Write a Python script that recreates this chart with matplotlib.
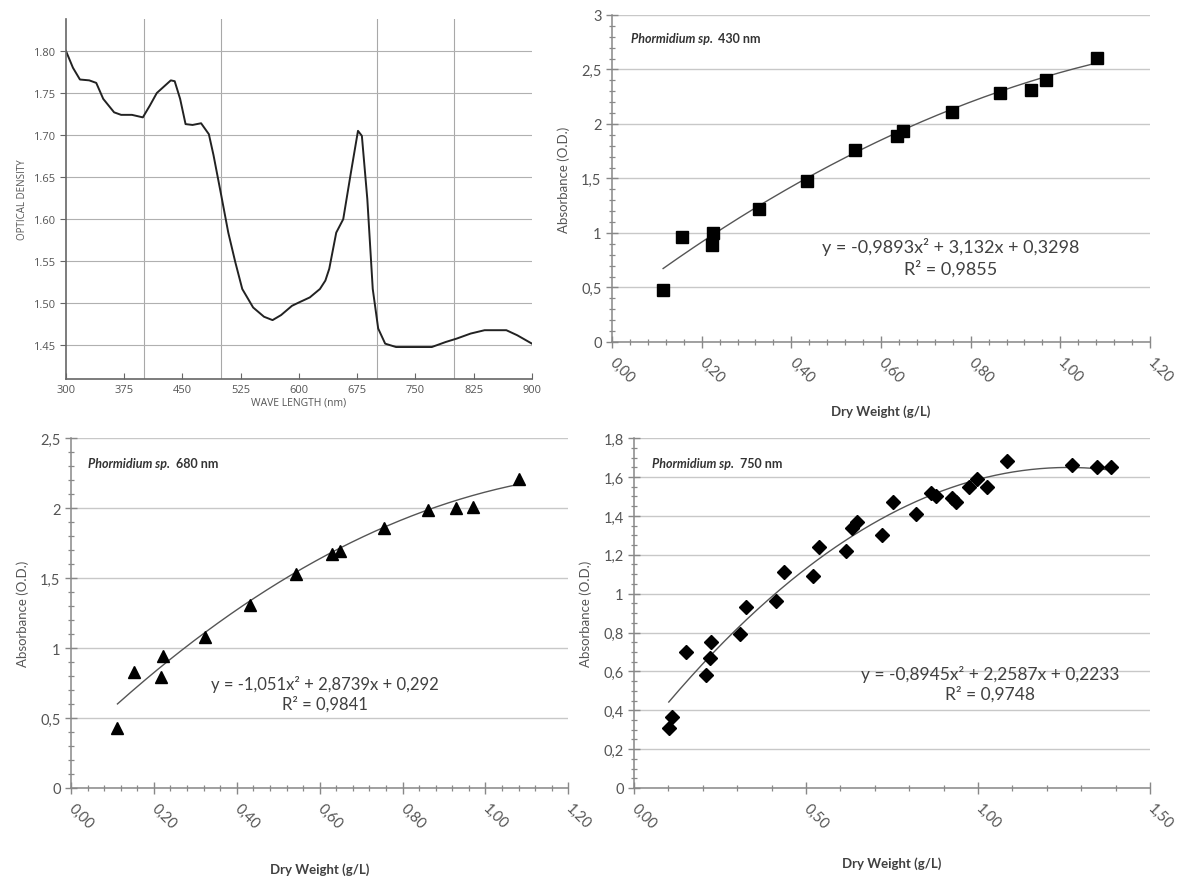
import numpy as np
import matplotlib
matplotlib.use('Agg')
import matplotlib.pyplot as plt
from matplotlib.ticker import FuncFormatter, MultipleLocator, FixedLocator

# spectre
wl = [300, 309, 318, 330, 339, 348, 362, 371, 385, 399, 408, 417, 435, 440, 447, 454, 463, 474,
      484, 490, 500, 509, 518, 527, 541, 555, 566, 577, 591, 600, 614, 627, 634, 639, 648, 657,
      667, 676, 681, 688, 695, 702, 711, 725, 748, 771, 789, 803, 821, 839, 867, 881, 900]
od = [1.800, 1.780, 1.766, 1.765, 1.762, 1.743, 1.727, 1.724, 1.724, 1.721, 1.735, 1.750, 1.765,
      1.764, 1.743, 1.713, 1.712, 1.714, 1.701, 1.676, 1.628, 1.584, 1.549, 1.517, 1.495, 1.484,
      1.480, 1.486, 1.497, 1.501, 1.507, 1.517, 1.527, 1.541, 1.584, 1.600, 1.656, 1.705, 1.699,
      1.624, 1.517, 1.470, 1.452, 1.448, 1.448, 1.448, 1.454, 1.458, 1.464, 1.468, 1.468, 1.462,
      1.452]

# 430 nm
dw_430 = [0.114, 0.155, 0.222, 0.226, 0.328, 0.435, 0.543, 0.635, 0.650, 0.759, 0.865, 0.934,
          0.969, 1.081]
abs_430 = [0.48, 0.96, 0.89, 1.00, 1.22, 1.48, 1.76, 1.89, 1.94, 2.11, 2.28, 2.31, 2.40, 2.61]
coef_430 = [-0.9893, 3.132, 0.3298]

# 680 nm
dw_680 = [0.112, 0.152, 0.218, 0.221, 0.323, 0.432, 0.543, 0.630, 0.650, 0.756, 0.861, 0.930,
          0.971, 1.080]
abs_680 = [0.43, 0.83, 0.79, 0.94, 1.08, 1.31, 1.53, 1.67, 1.69, 1.86, 1.99, 2.00, 2.01, 2.21]
coef_680 = [-1.051, 2.8739, 0.292]

# 750 nm
dw_750 = [0.101, 0.110, 0.152, 0.209, 0.220, 0.223, 0.308, 0.325, 0.413, 0.435, 0.519, 0.539,
          0.616, 0.633, 0.649, 0.721, 0.754, 0.820, 0.864, 0.877, 0.924, 0.935, 0.974, 0.998,
          1.027, 1.084, 1.273, 1.346, 1.387]
abs_750 = [0.31, 0.365, 0.70, 0.58, 0.67, 0.75, 0.79, 0.93, 0.96, 1.11, 1.09, 1.24, 1.22, 1.34,
           1.37, 1.30, 1.47, 1.41, 1.52, 1.50, 1.49, 1.47, 1.55, 1.59, 1.55, 1.68, 1.66, 1.65,
           1.65]
coef_750 = [-0.8945, 2.2587, 0.2233]

fig = plt.figure(figsize=(11.84, 8.79), dpi=100)

## 1. spectre
ax1 = fig.add_axes([0.0557, 0.5677, 0.3936, 0.4096])
ax1.plot(wl, od, color='#222222', lw=1.4)
ax1.set_xlim(300, 900)
ax1.set_ylim(1.41, 1.838)
ax1.set_xticks(np.arange(300, 901, 75))
ax1.set_yticks(np.arange(1.45, 1.801, 0.05))
ax1.yaxis.set_major_formatter(FuncFormatter(lambda v, p: f'{v:.2f}'))
ax1.xaxis.set_minor_locator(FixedLocator(np.arange(400, 901, 100)))
ax1.grid(axis='y', which='major', color='#b0b0b0', lw=0.8)
ax1.grid(axis='x', which='minor', color='#a8a8a8', lw=0.8)
ax1.tick_params(axis='x', which='minor', length=0)
ax1.tick_params(axis='x', which='major', direction='in', length=4)
ax1.tick_params(axis='y', which='major', direction='out', length=4)
ax1.tick_params(which='major', colors='#666666', labelcolor='#555555', labelsize=8)
for s in ['top', 'right']:
    ax1.spines[s].set_visible(False)
for s in ['left', 'bottom']:
    ax1.spines[s].set_color('#666666')
    ax1.spines[s].set_linewidth(1.2)
ax1.set_xlabel('WAVE LENGTH (nm)', fontsize=7.5, color='#555555', labelpad=1)
ax1.set_ylabel('OPTICAL DENSITY', fontsize=7, color='#555555', labelpad=4)
for t in ax1.get_xticklabels() + ax1.get_yticklabels():
    t.set_family('Open Sans')
ax1.xaxis.label.set_family('Open Sans')
ax1.yaxis.label.set_family('Open Sans')


def fmt_x(v, p):
    return f'{v:.2f}'.replace('.', ',')


def fmt_y(v, p):
    return ('%g' % round(v, 2)).replace('.', ',')


def excel_panel(rect, xs, ys, coef, marker, msize, xmax, xstep, xminor, ymax, ystep, yminor,
                title, eq, r2, eq_pos, eq_size, xpad):
    ax = fig.add_axes(rect)
    xx = np.linspace(min(xs), max(xs), 200)
    ax.plot(xx, np.polyval(coef, xx), color='#555555', lw=1.0, zorder=2)
    ax.plot(xs, ys, linestyle='none', marker=marker, color='black', markersize=msize, zorder=3)
    ax.set_xlim(0, xmax)
    ax.set_ylim(0, ymax)
    ax.xaxis.set_major_locator(MultipleLocator(xstep))
    ax.xaxis.set_minor_locator(MultipleLocator(xminor))
    ax.yaxis.set_major_locator(MultipleLocator(ystep))
    ax.yaxis.set_minor_locator(MultipleLocator(yminor))
    ax.xaxis.set_major_formatter(FuncFormatter(fmt_x))
    ax.yaxis.set_major_formatter(FuncFormatter(fmt_y))
    ax.grid(axis='y', which='major', color='#c8c8c8', lw=1.0)
    ax.set_axisbelow(True)
    ax.tick_params(which='major', direction='inout', length=8, width=1.0, colors='#888888',
                   labelcolor='#555555', labelsize=10.5)
    ax.tick_params(axis='x', which='major', pad=9)
    ax.tick_params(which='minor', direction='inout', length=5, width=0.9, colors='#888888')
    for s in ['top', 'right']:
        ax.spines[s].set_visible(False)
    for s in ['left', 'bottom']:
        ax.spines[s].set_color('#888888')
        ax.spines[s].set_linewidth(1.1)
    for t in ax.get_xticklabels():
        t.set_rotation(-45)
        t.set_ha('left')
        t.set_va('center')
        t.set_rotation_mode('anchor')
    ax.set_xlabel('Dry Weight (g/L)', fontsize=9.5, fontweight='bold', color='#404040',
                  labelpad=xpad)
    ax.set_ylabel('Absorbance (O.D.)', fontsize=9.5, color='#555555', labelpad=8)
    t1 = ax.text(0.035, 0.93, title[0], transform=ax.transAxes, fontsize=9, fontweight='bold',
                 fontstyle='italic', color='#333333', va='center')
    ax.annotate(title[1], xy=(1, 0.5), xycoords=t1, xytext=(4, 0), textcoords='offset points',
                fontsize=9, fontweight='bold', color='#333333', va='center')
    ax.text(eq_pos[0], eq_pos[1], eq + '\n' + r2, transform=ax.transAxes, fontsize=eq_size,
            color='#404040', ha='center', va='center', linespacing=1.25)
    return ax


plt.rcParams['font.family'] = ['Lato', 'DejaVu Sans']

excel_panel([0.5169, 0.6098, 0.4544, 0.372], dw_430, abs_430, coef_430, 's', 8.5,
            1.2, 0.2, 0.04, 3, 0.5, 0.1, ('Phormidium sp.', '430 nm'),
            'y = -0,9893x² + 3,132x + 0,3298', 'R² = 0,9855', (0.63, 0.26), 13, 14)
excel_panel([0.06, 0.1024, 0.42, 0.398], dw_680, abs_680, coef_680, '^', 8.5,
            1.2, 0.2, 0.04, 2.5, 0.5, 0.1, ('Phormidium sp.', '680 nm'),
            'y = -1,051x² + 2,8739x + 0,292', 'R² = 0,9841', (0.51, 0.27), 12, 22)
excel_panel([0.5355, 0.1024, 0.4358, 0.398], dw_750, abs_750, coef_750, 'D', 7.5,
            1.5, 0.5, 0.1, 1.8, 0.2, 0.05, ('Phormidium sp.', '750 nm'),
            'y = -0,8945x² + 2,2587x + 0,2233', 'R² = 0,9748', (0.69, 0.3), 12.5, 18)

fig.savefig('out.png', dpi=100)
